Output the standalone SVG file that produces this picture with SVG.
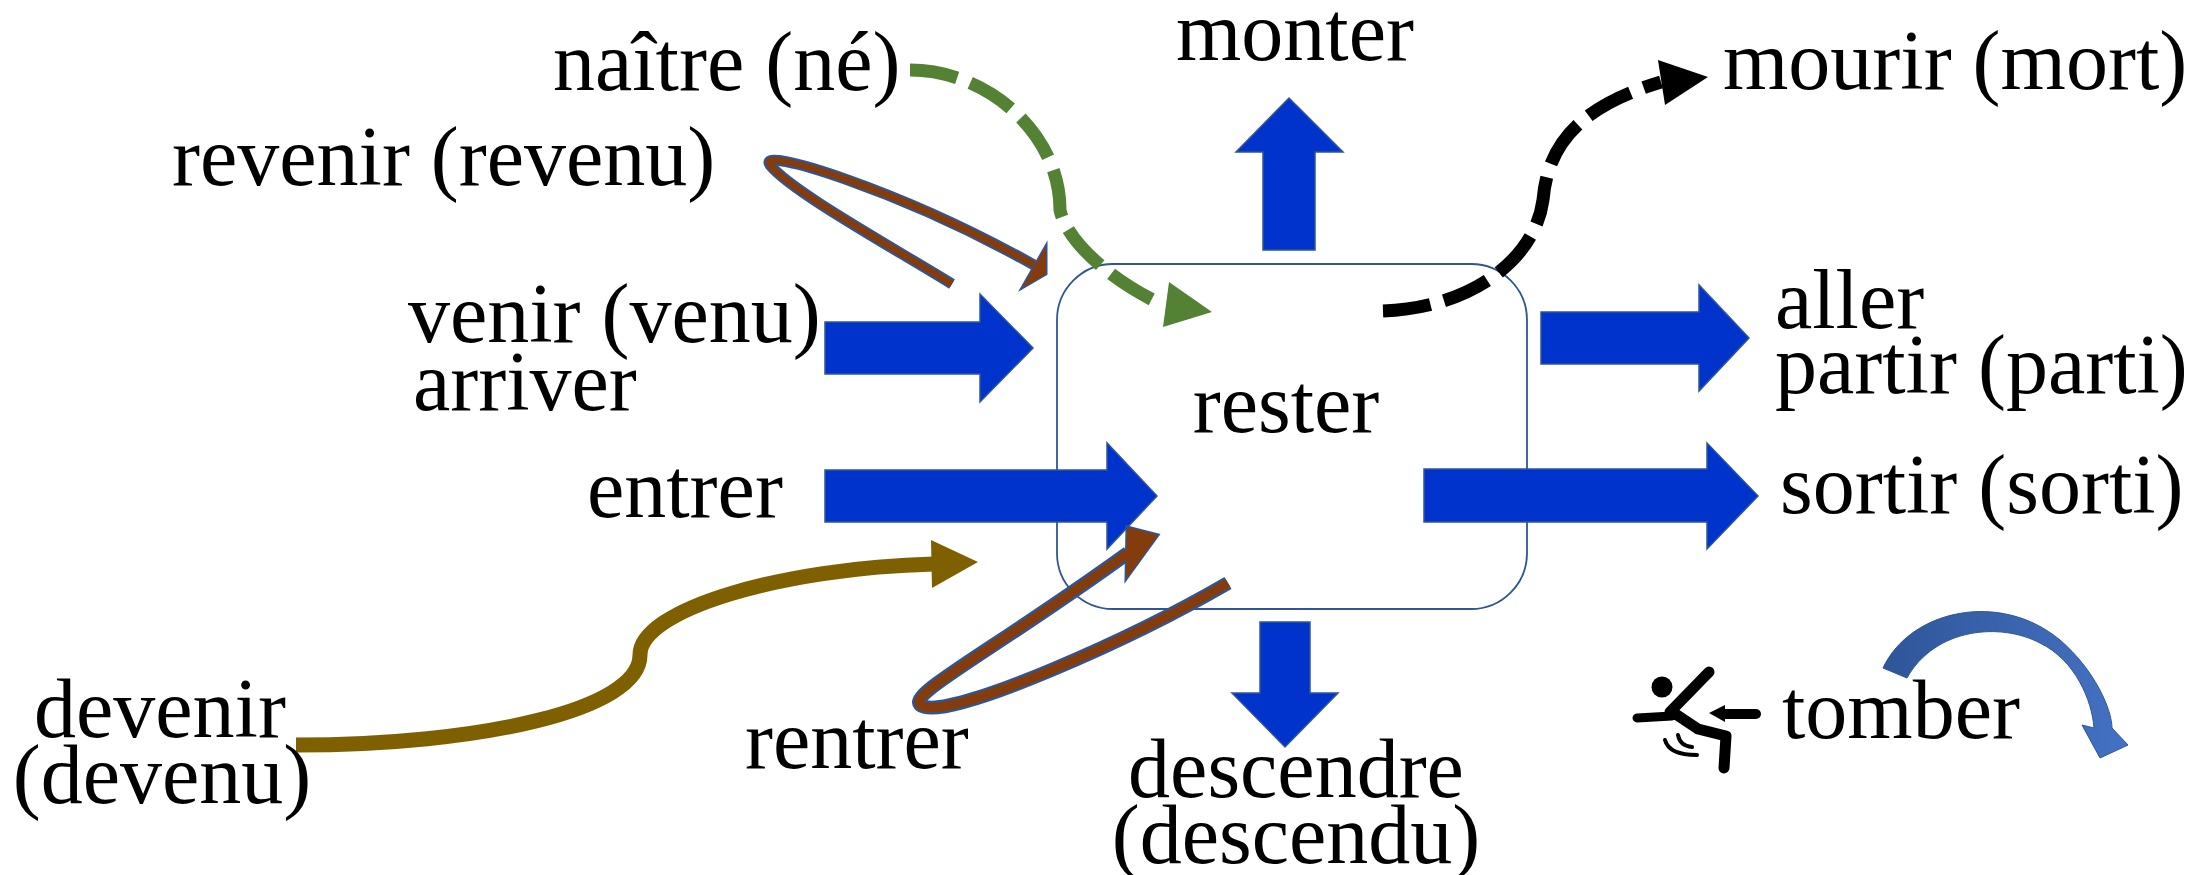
<svg xmlns="http://www.w3.org/2000/svg" width="2202" height="875" viewBox="0 0 2202 875">
<defs>
<style>
.lbl{font-family:"Liberation Serif","Times New Roman",serif;font-size:84px;fill:#000}
.blk{fill:#0033CC;stroke:#2F5597;stroke-width:1.5;stroke-linejoin:miter}
.bandO{fill:none;stroke:#2F5597;stroke-linecap:butt;stroke-linejoin:round}
.bandI{fill:none;stroke:#843C0C;stroke-linecap:butt;stroke-linejoin:round}
.headO{fill:#2F5597;stroke:#2F5597;stroke-width:3;stroke-linejoin:miter}
.headI{fill:#843C0C;stroke:none}
.dash{fill:none;stroke-width:13;stroke-linecap:butt;stroke-dasharray:48 14}
.ico{fill:none;stroke:#000;stroke-linecap:round;stroke-linejoin:round}
</style>
<linearGradient id="curveGrad" x1="1880" y1="0" x2="2130" y2="0" gradientUnits="userSpaceOnUse">
<stop offset="0" stop-color="#2F5597"/>
<stop offset="1" stop-color="#4472C4"/>
</linearGradient>
</defs>
<rect width="2202" height="875" fill="#fff"/>

<g id="node-rester">
<rect x="1057" y="264" width="470" height="345" rx="56" ry="56" fill="#fff" stroke="#2F5597" stroke-width="1.8"/>
<text class="lbl" x="1286" y="432" text-anchor="middle">rester</text>
</g>

<g id="connectors">
<polygon id="arrow-monter" class="blk" points="1263,250 1263,152 1236,152 1289,98 1343,152 1315,152 1315,250"/>
<polygon id="arrow-descendre" class="blk" points="1260,622 1310,622 1310,693 1338,693 1285,747 1232,693 1260,693"/>
<polygon id="arrow-venir" class="blk" points="825,322 980,322 980,294 1033,348 980,402 980,374 825,374"/>
<polygon id="arrow-entrer" class="blk" points="825,470 1107,470 1107,443 1157,496 1107,549 1107,522 825,522"/>
<polygon id="arrow-aller" class="blk" points="1541,312 1699,312 1699,285 1749,338 1699,391 1699,364 1541,364"/>
<polygon id="arrow-sortir" class="blk" points="1424,469 1707,469 1707,443 1758,496 1707,549 1707,522 1424,522"/>

<g id="arrow-naitre">
<path class="dash" stroke="#548235" d="M 910 70 C 987 70, 1060 133, 1060 210 C 1065 235, 1100 275, 1163 305"/>
<polygon fill="#548235" points="1169,282 1212,312 1163,327"/>
</g>

<g id="arrow-mourir">
<path class="dash" stroke="#000" d="M 1383 311 C 1470 308, 1535 260, 1543 200 C 1548 140, 1585 105, 1661 82"/>
<polygon fill="#000" points="1658,60 1708,77 1665,105"/>
</g>

<g id="arrow-devenir">
<path d="M 296 745 C 480 745, 640 710, 640 655 C 640 610, 780 568, 934 564" fill="none" stroke="#7F6000" stroke-width="15" stroke-linecap="butt"/>
<polygon fill="#7F6000" points="931,540 978,562 932,588"/>
</g>

<g id="arrow-revenir">
<path class="bandO" stroke-width="11" d="M 952 284 C 880 240, 790 190, 770 165 C 755 145, 900 190, 1034 265"/>
<polygon class="headO" points="1046,246 1046,274 1022,288"/>
<path class="bandI" stroke-width="7" d="M 952 284 C 880 240, 790 190, 770 165 C 755 145, 900 190, 1034 265"/>
<polygon class="headI" points="1046,246 1046,274 1022,288"/>
</g>

<g id="arrow-rentrer">
<path class="bandO" stroke-width="14" d="M 1228 583 C 1130 640, 960 715, 925 707 C 895 700, 980 660, 1128 553"/>
<polygon class="headO" points="1127,527 1158,535 1126,579"/>
<path class="bandI" stroke-width="9.5" d="M 1228 583 C 1130 640, 960 715, 925 707 C 895 700, 980 660, 1128 553"/>
<polygon class="headI" points="1127,527 1158,535 1126,579"/>
</g>

<path id="arrow-tomber" fill="url(#curveGrad)" stroke="#2F5597" stroke-width="1" d="M 1883 668 C 1910 610, 2000 590, 2060 640 C 2095 670, 2112 710, 2112 728 L 2128 745 L 2100 758 L 2082 725 L 2094 728 C 2092 700, 2075 660, 2040 643 C 2000 622, 1935 628, 1907 678 Z"/>
</g>

<g id="node-naitre"><text class="lbl" x="553" y="90">naître (né)</text></g>
<g id="node-revenir"><text class="lbl" x="172" y="185">revenir (revenu)</text></g>
<g id="node-venir"><text class="lbl" x="408" y="342">venir (venu)</text><text class="lbl" x="413" y="410">arriver</text></g>
<g id="node-entrer"><text class="lbl" x="587" y="517">entrer</text></g>
<g id="node-devenir"><text class="lbl" x="160" y="737" text-anchor="middle">devenir</text><text class="lbl" x="162" y="803" text-anchor="middle">(devenu)</text></g>
<g id="node-rentrer"><text class="lbl" x="745" y="768">rentrer</text></g>
<g id="node-monter"><text class="lbl" x="1176" y="60">monter</text></g>
<g id="node-mourir"><text class="lbl" x="1723" y="89">mourir (mort)</text></g>
<g id="node-aller"><text class="lbl" x="1775" y="328">aller</text><text class="lbl" x="1775" y="393">partir (parti)</text></g>
<g id="node-sortir"><text class="lbl" x="1780" y="513">sortir (sorti)</text></g>
<g id="node-descendre"><text class="lbl" x="1296" y="797" text-anchor="middle">descendre</text><text class="lbl" x="1296" y="863" text-anchor="middle">(descendu)</text></g>

<g id="node-tomber">
<circle cx="1662" cy="687" r="10.5" fill="#000"/>
<path class="ico" stroke-width="11" d="M 1709 672 L 1670 712"/>
<path class="ico" stroke-width="9" d="M 1637 718 L 1672 716"/>
<path class="ico" stroke-width="11" d="M 1674 713 L 1698 729 L 1726 736 L 1724 768"/>
<path class="ico" stroke-width="10" d="M 1722 714 L 1756 714"/>
<polygon fill="#000" points="1709,713 1725,705 1725,722"/>
<path class="ico" stroke-width="4" d="M 1665 740 Q 1669 755 1697 755"/>
<path class="ico" stroke-width="4" d="M 1678 735 Q 1680 746 1692 747"/>
<text class="lbl" x="1782" y="738">tomber</text>
</g>
</svg>
